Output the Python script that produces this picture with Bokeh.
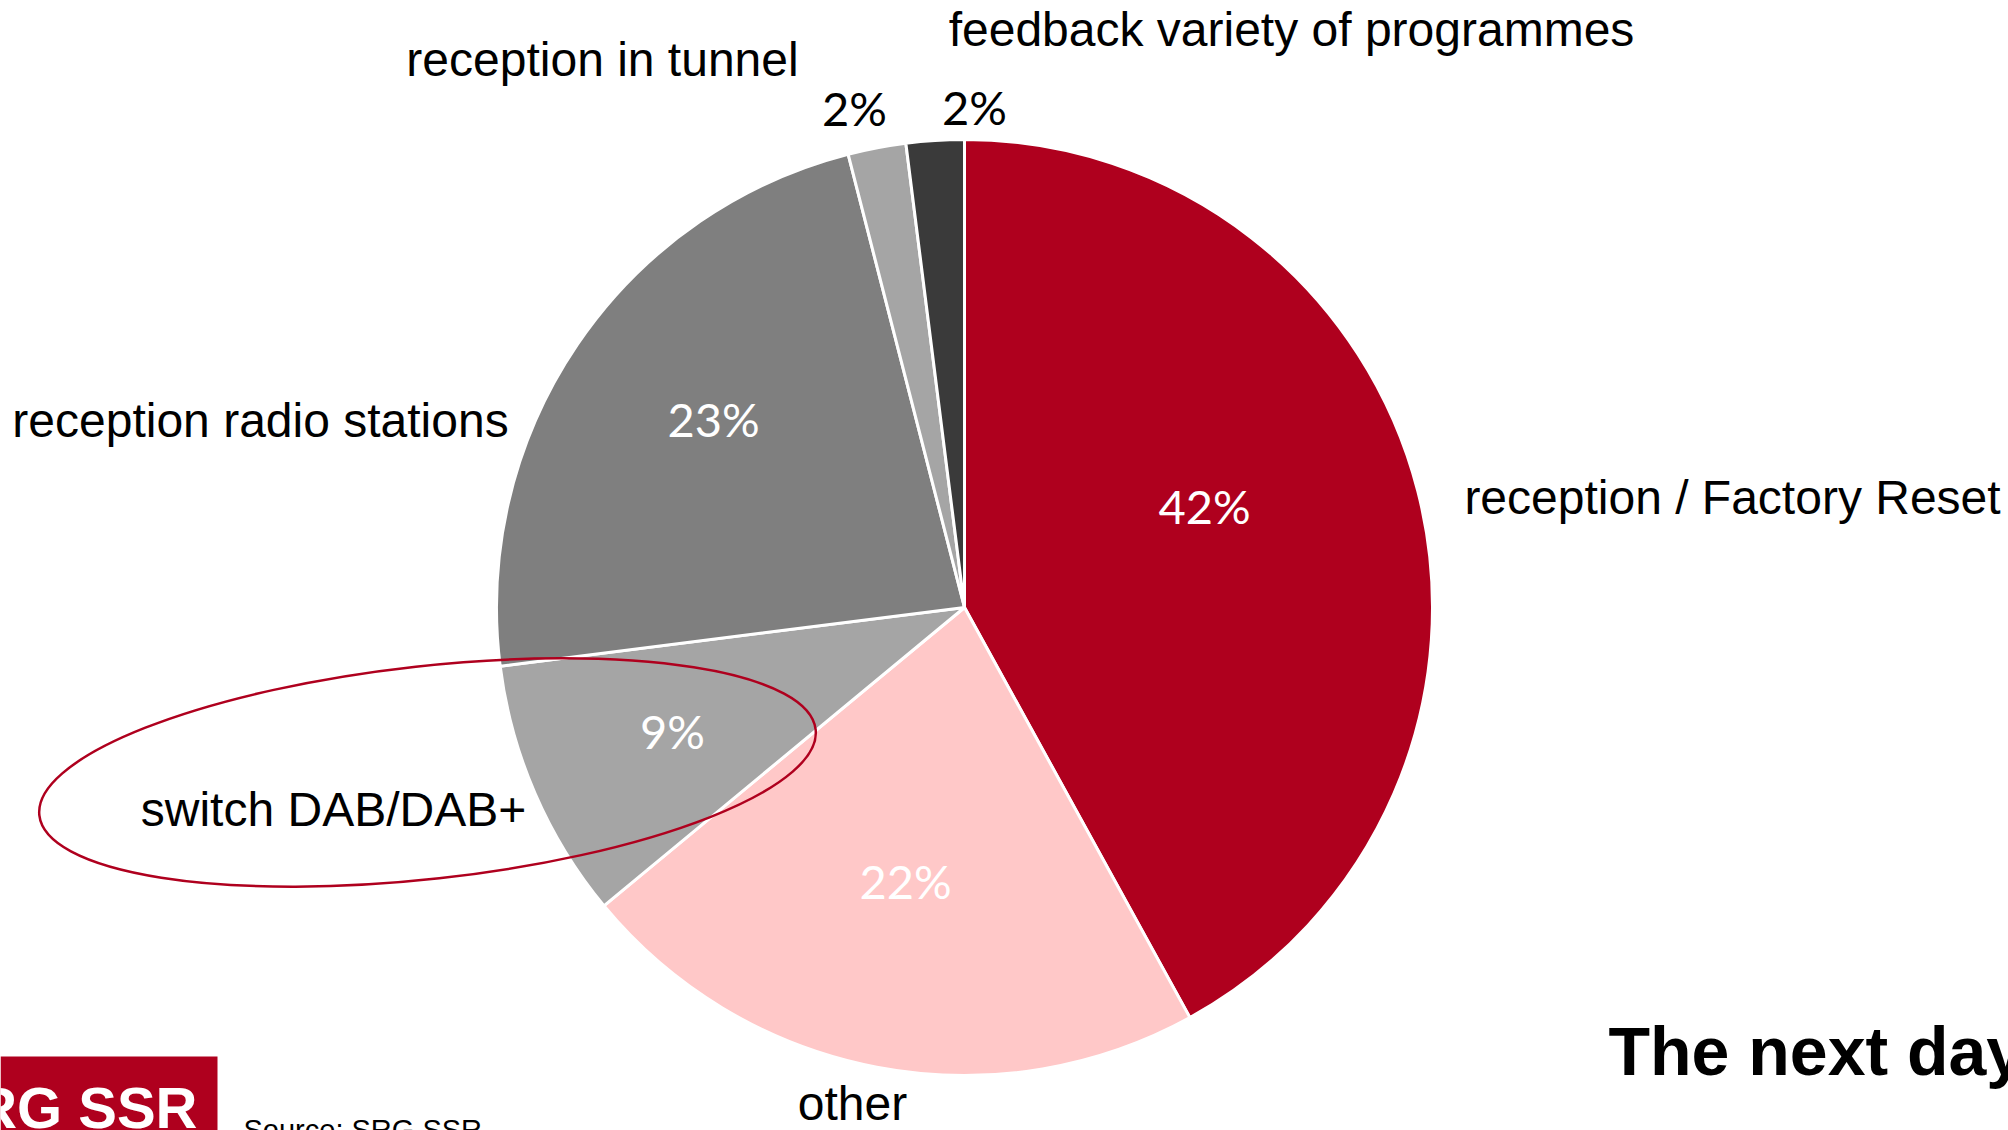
import math
from bokeh.plotting import figure
from bokeh.models import Range1d, ColumnDataSource
from bokeh.core.properties import value
from bokeh.embed import file_html
from bokeh.resources import INLINE

# ---------------- data ----------------
categories = ["reception / Factory Reset", "other", "switch DAB/DAB+",
              "reception radio stations", "reception in tunnel",
              "feedback variety of programmes"]
shares = [42, 22, 9, 23, 2, 2]
pct_labels = ["42%", "22%", "9%", "23%", "2%", "2%"]
colors = ["#AF001E", "#FFC8C8", "#A5A5A5", "#7F7F7F", "#A5A5A5", "#3A3A3A"]
title_text = "The next day"
source_text = "Source: SRG SSR"
logo_text = "SRG SSR"

# ---------------- layout ----------------
W, H = 2008, 1130
PAGE_H = 1130
X0 = 0


def Y(v):
    return PAGE_H - v


CX, CY, R = 964, 607, 468

# label anchors (reference pixel coordinates)
pct_pos = [(1204, 505), (905, 880), (672, 730), (713, 418), (854, 107), (974, 106)]
pct_col = ["white", "white", "white", "white", "black", "black"]
cat_pos = [(1732, 497), (852, 1103), (333, 809), (260, 420), (602, 59), (1291, 29)]

p = figure(width=W, height=H, x_range=Range1d(X0, X0 + W), y_range=Range1d(0, H),
           output_backend="svg", toolbar_location=None, min_border=0,
           x_axis_location=None, y_axis_location=None)
p.grid.visible = False
p.outline_line_color = None
p.background_fill_color = "white"
p.border_fill_color = "white"

total = float(sum(shares))
starts, ends = [], []
cum = 0.0
for s in shares:
    starts.append(math.pi / 2 - 2 * math.pi * cum / total)
    cum += s
    ends.append(math.pi / 2 - 2 * math.pi * cum / total)

src = ColumnDataSource(dict(x=[CX] * len(shares), y=[Y(CY)] * len(shares),
                            start=starts, end=ends, color=colors, cat=categories))
p.wedge(x="x", y="y", radius=R, start_angle="start", end_angle="end",
        direction="clock", fill_color="color", line_color="white", line_width=3,
        source=src)

# highlight ellipse
p.ellipse(x=[427], y=[Y(772)], width=781, height=213, angle=math.radians(6.3),
          fill_color=None, line_color="#AF001E", line_width=2.5)

# percentage labels
p.text(x=[q[0] for q in pct_pos], y=[Y(q[1]) for q in pct_pos], text=pct_labels,
       text_color=pct_col, text_font=value("Lato"), text_font_size="47px",
       text_align="center", text_baseline="middle")

# category labels
p.text(x=[q[0] for q in cat_pos], y=[Y(q[1]) for q in cat_pos], text=categories,
       text_color="black", text_font=value("Liberation Sans"), text_font_size="48px",
       text_align="center", text_baseline="middle")

# title
p.text(x=[1608], y=[Y(1050)], text=[title_text], text_color="black",
       text_font=value("Liberation Sans"), text_font_style="bold",
       text_font_size="68px", text_align="left", text_baseline="middle")

# logo
p.quad(left=[0], right=[217], bottom=[Y(1140)], top=[Y(1056)],
       fill_color="#AF001E", line_color=None)
p.text(x=[197], y=[Y(1107)], text=[logo_text], text_color="white",
       text_font=value("Liberation Sans"), text_font_style="bold",
       text_font_size="58px", text_align="right", text_baseline="middle")

# source
p.text(x=[243], y=[Y(1129)], text=[source_text], text_color="black",
       text_font=value("Liberation Sans"), text_font_size="29px",
       text_align="left", text_baseline="middle")

open("out.html", "w").write(file_html(p, INLINE))
